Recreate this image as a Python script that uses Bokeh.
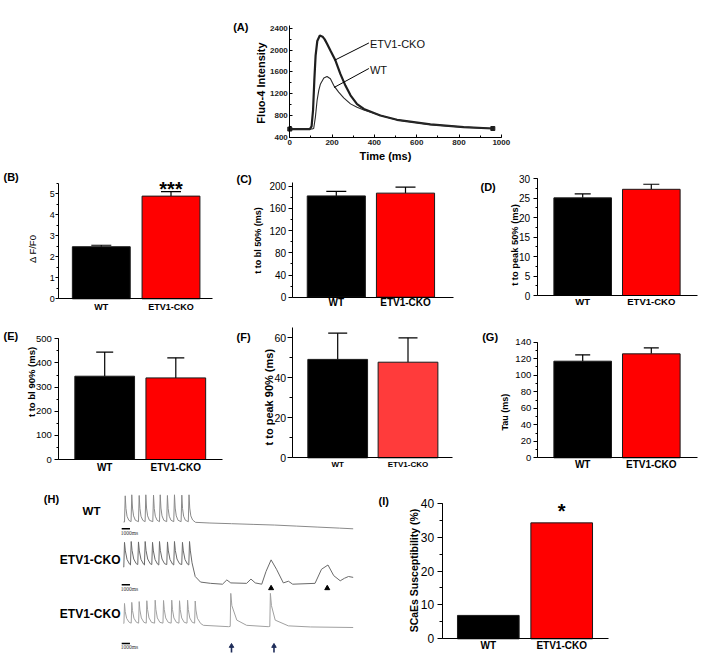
import math
from bokeh.plotting import figure
from bokeh.models import (Range1d, SingleIntervalTicker, FixedTicker, Label, Whisker,
                          TeeHead, ColumnDataSource, Spacer, LinearAxis)
from bokeh.layouts import column, row
from bokeh.embed import file_html
from bokeh.resources import INLINE
from bokeh.core.properties import value

FONT = "Liberation Sans"
SERIF = "Liberation Serif"

# ---------------- data ----------------
groups = ["WT", "ETV1-CKO"]
bar_colors = ["#000000", "#ff0000"]

# (A) Fluo-4 transients (time ms, intensity)
a_t_cko = [0, 95, 103, 110, 116, 122, 130, 142, 155, 165, 176, 192, 216, 239, 263, 287, 318, 350, 428, 507, 665, 822, 960]
a_f_cko = [550, 550, 600, 900, 1450, 1900, 2170, 2270, 2250, 2200, 2120, 1995, 1810, 1565, 1350, 1170, 1010, 920, 800, 720, 635, 585, 560]
a_t_wt = [0, 105, 113, 121, 129, 137, 145, 161, 176, 192, 208, 231, 255, 287, 318, 350, 397, 450, 507, 600, 665, 822, 960]
a_f_wt = [550, 550, 560, 770, 1075, 1260, 1380, 1490, 1517, 1475, 1350, 1230, 1125, 1013, 950, 900, 840, 775, 718, 665, 632, 585, 560]

# (B)-(G) means and SEM
b_mean = [2.48, 4.89]; b_err = [0.07, 0.21]
c_mean = [182.5, 187.5]; c_err = [8.0, 11.0]
d_mean = [25.1, 27.3]; d_err = [1.0, 1.3]
e_mean = [345.0, 338.0]; e_err = [100.0, 83.0]
f_mean = [49.2, 47.8]; f_err = [13.1, 12.2]
g_mean = [117.0, 125.9]; g_err = [7.7, 7.2]
# (I) SCaEs susceptibility (%)
i_pct = [6.9, 34.2]

# (H) representative traces (time s, normalised fluorescence)
h_wt_t = [0.00, 0.14, 0.24, 0.34, 0.49, 0.74,
          1.05, 1.15, 1.25, 1.40, 1.65,
          2.08, 2.18, 2.28, 2.43, 2.68,
          3.00, 3.10, 3.20, 3.35, 3.60,
          4.07, 4.17, 4.27, 4.42, 4.67,
          5.00, 5.10, 5.20, 5.35, 5.60,
          6.00, 6.10, 6.20, 6.35, 6.60,
          6.98, 7.08, 7.18, 7.33, 7.58,
          8.00, 8.10, 8.20, 8.35, 8.60,
          9.00, 9.10, 9.20, 9.35, 9.60, 10.0,
          12.0, 15.0, 18.0, 21.0, 24.0, 27.0, 30.0, 31.9]
h_wt_y = [0.20, 0.20, 0.97, 0.60, 0.37, 0.25,
          0.21, 1.00, 0.61, 0.38, 0.25,
          0.21, 0.98, 0.60, 0.37, 0.25,
          0.21, 1.00, 0.61, 0.38, 0.25,
          0.21, 0.99, 0.60, 0.37, 0.25,
          0.21, 1.00, 0.61, 0.38, 0.25,
          0.21, 0.98, 0.60, 0.37, 0.25,
          0.21, 1.00, 0.61, 0.38, 0.25,
          0.21, 0.99, 0.60, 0.37, 0.25,
          0.21, 1.00, 0.61, 0.38, 0.26, 0.19,
          0.17, 0.15, 0.13, 0.11, 0.08, 0.05, 0.02, 0.00]
h_mid_t = [0.00, 0.04, 0.14, 0.26, 0.49, 0.84,
           0.97, 1.07, 1.19, 1.42, 1.77,
           1.98, 2.08, 2.20, 2.43, 2.78,
           2.91, 3.01, 3.13, 3.36, 3.71,
           3.93, 4.03, 4.15, 4.38, 4.73,
           4.90, 5.00, 5.12, 5.35, 5.70,
           6.01, 6.11, 6.23, 6.46, 6.81,
           6.98, 7.08, 7.20, 7.43, 7.78,
           8.09, 8.19, 8.31, 8.54, 8.89,
           9.07, 9.17, 9.29, 9.52, 9.96, 10.7, 12.1,
           13.75, 14.35, 14.9, 17.1, 17.7, 18.3, 19.2, 19.8, 20.5, 21.25, 22.2, 22.9, 23.5,
           26.6, 27.5, 28.4, 29.2, 30.1, 30.7, 31.25, 31.9]
h_mid_y = [0.40, 0.40, 0.98, 0.78, 0.58, 0.47,
           0.45, 1.00, 0.79, 0.59, 0.48,
           0.46, 0.99, 0.78, 0.58, 0.47,
           0.45, 1.00, 0.79, 0.59, 0.48,
           0.46, 0.98, 0.78, 0.58, 0.47,
           0.45, 1.00, 0.79, 0.59, 0.48,
           0.46, 0.99, 0.78, 0.58, 0.47,
           0.45, 1.00, 0.79, 0.59, 0.48,
           0.46, 0.98, 0.78, 0.58, 0.47,
           0.45, 1.00, 0.78, 0.50, 0.18, 0.05, 0.02,
           0.00, 0.10, 0.03, 0.02, 0.12, 0.03, 0.00, 0.30, 0.57, 0.35, 0.03, 0.07, 0.00,
           0.02, 0.35, 0.45, 0.20, 0.08, 0.14, 0.18, 0.16]
h_bot_t = [0.00, 0.06, 0.14, 0.24, 0.44, 0.79,
           1.07, 1.15, 1.25, 1.45, 1.80,
           2.10, 2.18, 2.28, 2.48, 2.83,
           3.16, 3.24, 3.34, 3.54, 3.89,
           4.32, 4.40, 4.50, 4.70, 5.05,
           5.48, 5.56, 5.66, 5.86, 6.21,
           6.62, 6.70, 6.80, 7.00, 7.35,
           7.70, 7.78, 7.88, 8.08, 8.43,
           8.82, 8.90, 9.00, 9.20, 9.55,
           9.88, 9.96, 10.06, 10.26, 10.70, 11.10,
           14.60, 14.82, 14.90, 15.05, 15.74, 17.10, 20.10, 20.32, 20.40, 20.55, 21.07, 22.90, 26.0, 31.9]
h_bot_y = [0.15, 0.15, 0.88, 0.58, 0.33, 0.19,
           0.16, 0.92, 0.62, 0.34, 0.19,
           0.16, 0.95, 0.64, 0.35, 0.19,
           0.16, 0.98, 0.66, 0.35, 0.19,
           0.16, 1.00, 0.66, 0.35, 0.19,
           0.16, 0.99, 0.66, 0.35, 0.19,
           0.16, 1.00, 0.66, 0.35, 0.19,
           0.16, 0.98, 0.66, 0.35, 0.19,
           0.16, 1.00, 0.66, 0.35, 0.19,
           0.16, 0.97, 0.64, 0.34, 0.15, 0.08,
           0.03, 0.04, 1.25, 0.80, 0.27, 0.08, 0.03, 0.04, 1.25, 0.80, 0.27, 0.06, 0.02, 0.00]
h_scae_t = [20.5, 28.3]      # arrowheads under spontaneous Ca2+ events (middle trace)
h_arrow_t = [15.0, 20.9]     # arrows under spontaneous transients (bottom trace)
h_scale_bar = [-0.25, 0.9]   # 1000 ms scale bar


# ---------------- helpers (page pixel placement) ----------------
def lin(v0, p0, v1, p1, a, b):
    s = (v1 - v0) / (p1 - p0)
    return (v0 + (a - p0) * s, v0 + (b - p0) * s)


def make_canvas(box, xmap, ymap):
    x0, y0, x1, y1 = box
    xs, xe = lin(*xmap, x0, x1)
    ys, ye = lin(*ymap, y1, y0)
    p = figure(width=x1 - x0, height=y1 - y0, x_range=Range1d(xs, xe), y_range=Range1d(ys, ye),
               output_backend="svg", toolbar_location=None, title_location=None,
               x_axis_location=None, y_axis_location=None, min_border=0)
    p.outline_line_color = None
    p.xgrid.visible = False
    p.ygrid.visible = False
    p.background_fill_color = "white"
    p.border_fill_color = "white"
    return p


def txt(p, box, x, y, text, size="11px", style="bold", align="left", angle=0.0,
        font=FONT, color="black"):
    x0, y0, x1, y1 = box
    p.add_layout(Label(x=x - x0, y=y1 - y, x_units="screen", y_units="screen", text=text,
                       text_font=font, text_font_size=size, text_font_style=style,
                       text_align=align, text_baseline="middle", angle=angle,
                       text_color=color))


def style_axis(ax, fs, style="normal", color="black"):
    ax.axis_line_color = "black"
    ax.axis_line_width = 1
    ax.major_tick_line_color = "black"
    ax.minor_tick_line_color = "black"
    ax.major_label_text_font = FONT
    ax.major_label_text_font_size = fs
    ax.major_label_text_font_style = style
    ax.major_label_text_color = color


def bar_panel(box, mean, err, colors, cx, ymap, y_top, ax_px, interval, title, title_xy,
              ylabel, ylabel_xy, ylabel_fs="9px", ylabel_style="bold",
              tick_fs="10px", tick_out=4, tick_off=2, minor_out=2,
              xlab_fs="10px", xlab_off=2, head=18, bar_w=0.84):
    p = make_canvas(box, (1, cx[0], 2, cx[1]), ymap)
    x_left, x_right = lin(1, cx[0], 2, cx[1], ax_px[0], ax_px[1])
    src = ColumnDataSource(dict(x=[1, 2], top=list(mean), color=list(colors)))
    p.vbar(x="x", top="top", width=bar_w, fill_color="color", line_color="#1a1a1a",
           line_width=1, source=src)
    if err is not None:
        wsrc = ColumnDataSource(dict(x=[1, 2], lower=list(mean),
                                     upper=[m + e for m, e in zip(mean, err)]))
        p.add_layout(Whisker(source=wsrc, base="x", lower="lower", upper="upper",
                             line_color="black", line_width=1.2, lower_head=None,
                             upper_head=TeeHead(size=head, line_color="black", line_width=1.2)))
    yax = LinearAxis(fixed_location=x_left, bounds=(0, y_top),
                     ticker=SingleIntervalTicker(interval=interval, num_minor_ticks=2))
    style_axis(yax, tick_fs)
    yax.major_tick_out = int(tick_out)
    yax.major_tick_in = 0
    yax.minor_tick_out = int(minor_out)
    yax.minor_tick_in = 0
    yax.major_label_standoff = int(round(tick_off))
    p.add_layout(yax, "left")
    xax = LinearAxis(fixed_location=0, bounds=(x_left, x_right), ticker=FixedTicker(ticks=[1, 2]))
    style_axis(xax, xlab_fs, "bold")
    xax.major_label_overrides = {1: groups[0], 2: groups[1]}
    xax.major_tick_out = 0
    xax.major_tick_in = 0
    xax.minor_tick_out = 0
    xax.minor_tick_in = 0
    xax.major_label_standoff = int(round(xlab_off))
    p.add_layout(xax, "below")
    txt(p, box, title_xy[0], title_xy[1], title)
    txt(p, box, ylabel_xy[0], ylabel_xy[1], ylabel, size=ylabel_fs, style=ylabel_style,
        align="center", angle=math.pi / 2)
    return p


# ---------------- (A) ----------------
boxA = (225, 0, 540, 165)
pA = make_canvas(boxA, (0, 289.3, 1000, 500.8), (400, 136.7, 2400, 28.0))
pA.line(a_t_cko, a_f_cko, line_color="#1e1e1e", line_width=2.2)
pA.line(a_t_wt, a_f_wt, line_color="#2a2a2a", line_width=1.1)
pA.scatter([a_t_cko[0], a_t_cko[-1]], [a_f_cko[0], a_f_cko[-1]], marker="square", size=4,
           color="#1e1e1e")
pA.line([374, 212], [2134, 1816], line_color="black", line_width=1)
pA.line([374, 209], [1664, 1314], line_color="black", line_width=1)
pA.add_layout(Label(x=379, y=2116, text="ETV1-CKO", text_font=FONT, text_font_size="11px",
                    text_baseline="middle", text_color="#111111"))
pA.add_layout(Label(x=379, y=1638, text="WT", text_font=FONT, text_font_size="11px",
                    text_baseline="middle", text_color="#111111"))
ayax = LinearAxis(fixed_location=0, bounds=(400, 2460),
                  ticker=SingleIntervalTicker(interval=400, num_minor_ticks=2))
axax = LinearAxis(fixed_location=400, bounds=(0, 1000),
                  ticker=SingleIntervalTicker(interval=200, num_minor_ticks=2))
for ax in (ayax, axax):
    style_axis(ax, "8px", "bold", "#222222")
    ax.major_tick_in = 3
    ax.major_tick_out = 0
    ax.minor_tick_in = 2
    ax.minor_tick_out = 0
ayax.major_label_standoff = 2
axax.major_label_standoff = 3
pA.add_layout(ayax, "left")
pA.add_layout(axax, "below")
txt(pA, boxA, 232.7, 26.7, "(A)")
txt(pA, boxA, 260.3, 82.5, "Fluo-4 Intensity", align="center", angle=math.pi / 2)
txt(pA, boxA, 385, 155.5, "Time (ms)", align="center")

# ---------------- (B)-(G) ----------------
boxB = (0, 165, 234, 318)
pB = bar_panel(boxB, b_mean, b_err, bar_colors, (100.8, 170.5), (0, 298.3, 5, 193.3), 5.5,
               (58.3, 211.7), 1, "(B)", (3, 176), "\u0394 F/F0", (31.7, 248.3),
               ylabel_fs="9.5px", ylabel_style="normal", tick_fs="9px", tick_out=3, tick_off=1,
               xlab_fs="9px", xlab_off=3, head=20, bar_w=0.83)
pB.text(x=[2], y=[b_mean[1] + b_err[1]], text=["***"], text_font=value(FONT),
        text_font_size="20px", text_font_style="bold", text_align="center",
        text_baseline="alphabetic", y_offset=-2.5)

boxC = (234, 165, 475, 318)
pC = bar_panel(boxC, c_mean, c_err, bar_colors, (335.8, 405.0), (0, 296.7, 200, 185.7), 207,
               (291.7, 453.3), 40, "(C)", (236, 178), "t to bl 50% (ms)", (257.5, 240),
               ylabel_fs="9px", tick_out=4, tick_off=2.5, xlab_fs="10px", xlab_off=0, head=20)

boxD = (475, 165, 709, 318)
pD = bar_panel(boxD, d_mean, d_err, bar_colors, (582.2, 650.8), (0, 295, 30, 178.3), 30,
               (536.7, 696.7), 5, "(D)", (480, 186.3), "t to peak 50% (ms)", (514, 244.5),
               ylabel_fs="9.3px", tick_out=4, tick_off=3, xlab_fs="9.5px", xlab_off=0.5, head=16)

boxE = (0, 318, 234, 480)
pE = bar_panel(boxE, e_mean, e_err, bar_colors, (104.2, 175.3), (0, 459, 500, 338.3), 500,
               (58.3, 221.7), 100, "(E)", (3, 335.8), "t to bl 90% (ms)", (30.5, 381.5),
               ylabel_fs="9.5px", tick_fs="9.5px", tick_out=4, tick_off=3, xlab_fs="10px",
               xlab_off=2.2, head=17)

boxF = (234, 318, 475, 480)
pF = bar_panel(boxF, f_mean, f_err, ["#000000", "#ff3b3b"], (337.2, 407.5), (0, 457.3, 60, 337.3),
               65, (291.7, 451.7), 20, "(F)", (236, 336.7), "t to peak 90% (ms)", (268.3, 396.7),
               ylabel_fs="11px", tick_fs="10.5px", tick_out=5, tick_off=1, minor_out=3,
               xlab_fs="8px", xlab_off=2.4, head=19, bar_w=0.85)

boxG = (475, 318, 709, 480)
pG = bar_panel(boxG, g_mean, g_err, bar_colors, (582.2, 650.8), (0, 457.3, 140, 341.7), 140,
               (536.7, 696.7), 20, "(G)", (481.7, 336.3), "Tau (ms)", (504, 411.7),
               ylabel_fs="9px", tick_fs="9.5px", tick_out=4, tick_off=2.5, xlab_fs="10px",
               xlab_off=1.3, head=15)

# ---------------- (I) ----------------
boxI = (370, 480, 709, 658)
pI = bar_panel(boxI, i_pct, None, bar_colors, (487.8, 561.2), (0, 638.3, 40, 502.7), 40,
               (441.7, 608.3), 10, "(I)", (378, 500), "SCaEs Susceptibility (%)", (413.3, 570),
               ylabel_fs="10.5px", tick_fs="12px", tick_out=5, tick_off=3, minor_out=3,
               xlab_fs="10px", xlab_off=0.8)
pI.text(x=[2], y=[i_pct[1]], text=["*"], text_font=value(FONT), text_font_size="20px",
        text_font_style="bold", text_align="center", text_baseline="alphabetic", y_offset=-12)

# ---------------- (H) ----------------
boxH = (0, 480, 370, 658)
pH = make_canvas(boxH, (0, 123, 1, 130.2), (0, 528.3, 1, 494.3))
mid_lo, mid_hi = lin(0, 583.7, 1, 541, boxH[3], boxH[1])
bot_lo, bot_hi = lin(0, 627, 1, 599.7, boxH[3], boxH[1])
pH.extra_y_ranges = {"mid": Range1d(mid_lo, mid_hi), "bot": Range1d(bot_lo, bot_hi)}
pH.line(h_wt_t, h_wt_y, line_color="#8a8a8a", line_width=1)
pH.line(h_mid_t, h_mid_y, line_color="#6a6a6a", line_width=1, y_range_name="mid")
pH.line(h_bot_t, h_bot_y, line_color="#a0a0a0", line_width=1, y_range_name="bot")
pH.line(h_scale_bar, [0.0, 0.0], line_color="black", line_width=1.5)
pH.line(h_scale_bar, [-0.014, -0.014], line_color="black", line_width=1.5, y_range_name="mid")
pH.line(h_scale_bar, [-0.586, -0.586], line_color="black", line_width=1.5, y_range_name="bot")
pH.scatter(h_scae_t, [-0.094] * len(h_scae_t), marker="triangle", size=5, color="black",
           y_range_name="mid")
pH.segment(x0=h_arrow_t, x1=h_arrow_t, y0=[-0.916] * 2, y1=[-0.70] * 2, line_color="#1f2d5a",
           line_width=1.6, y_range_name="bot")
pH.scatter(h_arrow_t, [-0.68] * 2, marker="triangle", size=4.5, color="#1f2d5a",
           y_range_name="bot")
txt(pH, boxH, 43.3, 498, "(H)", size="11px")
txt(pH, boxH, 100, 510, "WT", size="11.5px", align="right")
txt(pH, boxH, 120, 559.3, "ETV1-CKO", size="12px", align="right")
txt(pH, boxH, 120, 613, "ETV1-CKO", size="12px", align="right")
for yy in (532.7, 588.3, 646.3):
    txt(pH, boxH, 120.3, yy, "1000ms", size="5.5px", style="normal", font=SERIF, color="#333333")

layout = column(
    row(Spacer(width=boxA[0], height=boxA[3] - boxA[1]), pA),
    row(pB, pC, pD),
    row(pE, pF, pG),
    row(pH, pI),
)

open("out.html", "w").write(file_html(layout, INLINE))
